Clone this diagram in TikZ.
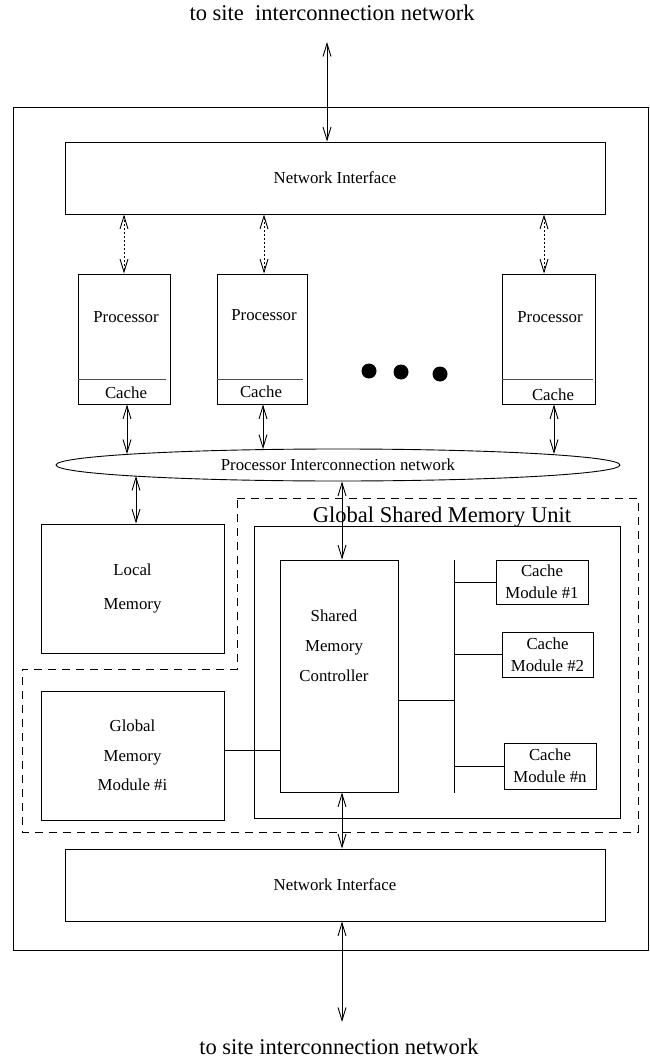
\documentclass[tikz,border=0pt]{standalone}
\usepackage{fontspec}
\setmainfont{Liberation Serif}
\usepackage{tikz}
\usetikzlibrary{arrows.meta,shapes.geometric,calc}

\newcommand{\smalltxt}{\fontsize{16.8}{20}\selectfont}
\newcommand{\bigtxt}{\fontsize{22.5}{27}\selectfont}

\tikzset{
  box/.style={draw, line width=0.9pt, inner sep=0pt, font=\smalltxt, align=center},
  txt/.style={inner sep=0pt, font=\smalltxt, align=center},
  bigtext/.style={inner sep=0pt, font=\bigtxt},
  biarrow/.style={line width=0.9pt, {Straight Barb[length=13pt,width=8pt]}-{Straight Barb[length=13pt,width=8pt]}},
  dotarrow/.style={biarrow, dash pattern=on 1.5pt off 2.5pt},
  wire/.style={line width=0.9pt},
  dashedline/.style={line width=0.9pt, dash pattern=on 8pt off 6pt},
}

\begin{document}
\begin{tikzpicture}[x=1pt,y=-1pt]
\useasboundingbox (0,0) rectangle (649,1064);

% site box and the two network interfaces
\node[box, minimum width=635pt, minimum height=843pt] (site) at (330.5,528.5) {};
\node[box, minimum width=540pt, minimum height=72pt] (ni1) at (335,178) {Network Interface};
\node[box, minimum width=540pt, minimum height=72pt] (ni2) at (335,885) {Network Interface};
\node[bigtext] (topnet) at (332,13) {to site\ \ interconnection network};
\node[bigtext] (botnet) at (339,1047) {to site interconnection network};
\coordinate (topend) at (327,42);
\coordinate (botend) at (342,1022);
\draw[biarrow] (topend) -- (topend |- ni1.north);
\draw[biarrow] (botend |- ni2.south) -- (botend);

% processors
\node[box, minimum width=92pt, minimum height=130pt] (p1) at (124,339) {};
\node[box, minimum width=90pt, minimum height=130pt] (p2) at (262,339) {};
\node[box, minimum width=93pt, minimum height=130pt] (p3) at (548.5,339) {};
\draw[wire, black!70] ($(p1.south west)+(0,-25)$) -- ($(p1.south east)+(-4,-25)$);
\draw[wire, black!70] ($(p2.south west)+(0,-25)$) -- ($(p2.south east)+(-4,-25)$);
\draw[wire, black!70] ($(p3.south west)+(0,-25)$) -- ($(p3.south east)+(-2,-25)$);
\node[txt] (p1t) at (126,317) {Processor};
\node[txt] (p2t) at (264,315) {Processor};
\node[txt] (p3t) at (550,317) {Processor};
\node[txt] (c1t) at (126,393) {Cache};
\node[txt] (c2t) at (261,392) {Cache};
\node[txt] (c3t) at (553,395) {Cache};
\fill (369,371) circle (7.5pt);
\fill (401,372) circle (7.5pt);
\fill (440,374) circle (7.5pt);

\draw[dotarrow] (p1.north |- ni1.south) -- (p1.north);
\draw[dotarrow] ($(p2.north)+(2,0)$) coordinate (d2) -- (d2 |- ni1.south);
\draw[dotarrow] ($(p3.north)+(-4.5,0)$) coordinate (d3) -- (d3 |- ni1.south);

% processor interconnection network
\node[draw, ellipse, line width=0.9pt, inner sep=0pt, minimum width=564pt, minimum height=32pt, font=\smalltxt] (pin) at (338,465) {Processor Interconnection network};
\draw[biarrow] ($(p1.south)+(3,0)$) coordinate (a1) -- (a1 |- pin.177);
\draw[biarrow] ($(p2.south)+(1,0)$) coordinate (a2) -- (a2 |- pin.168);
\draw[biarrow] ($(p3.south)+(5.5,0)$) coordinate (a3) -- (a3 |- pin.3);

% local memory
\node[box, minimum width=183pt, minimum height=129pt] (lm) at (132.5,588.5) {Local\\[14pt]Memory};
\draw[biarrow] ($(lm.north)+(3.5,0)$) coordinate (a4) -- (a4 |- pin.183);

% global shared memory unit
\draw[dashedline] (237,498) -- (638,498) -- (638,832) -- (22,832) -- (22,669) -- (237,669) -- cycle;
\node[box, minimum width=366pt, minimum height=292pt] (gsmu) at (437,672) {};
\node[bigtext, anchor=base] (gsmut) at (442,522) {Global Shared Memory Unit};
\node[box, minimum width=118pt, minimum height=232pt] (smc) at (339,676) {};
\node[txt] (smct) at (334,646) {Shared\\[10pt]Memory\\[10pt]Controller};
\draw[biarrow] ($(smc.north)+(3,0)$) coordinate (a5) -- (a5 |- pin.south);
\draw[biarrow] ($(smc.south)+(3,0)$) coordinate (a6) -- (a6 |- ni2.north);

\coordinate (bustop) at (454,560);
\coordinate (busbot) at (454,793);
\draw[wire] (bustop) -- (busbot);
\node[box, minimum width=92pt, minimum height=44pt] (cm1) at (542,582) {Cache\\[2pt]Module \#1};
\node[box, minimum width=91pt, minimum height=45pt] (cm2) at (547.5,654.5) {Cache\\[2pt]Module \#2};
\node[box, minimum width=92pt, minimum height=46pt] (cmn) at (550,766) {Cache\\[2pt]Module \#n};
\draw[wire] (cm1.west -| bustop) -- (cm1.west);
\draw[wire] (cm2.west -| bustop) -- (cm2.west);
\draw[wire] (cmn.west -| bustop) -- (cmn.west);
\draw[wire] ($(smc.east)+(0,24)$) coordinate (s1) -- (s1 -| bustop);

\node[box, minimum width=183pt, minimum height=129pt] (gmm) at (132.5,755.5) {Global\\[9.5pt]Memory\\[9.5pt]Module \#i};
\draw[wire] ($(gmm.east)+(0,-5.5)$) coordinate (g1) -- (g1 -| smc.west);
\end{tikzpicture}
\end{document}
